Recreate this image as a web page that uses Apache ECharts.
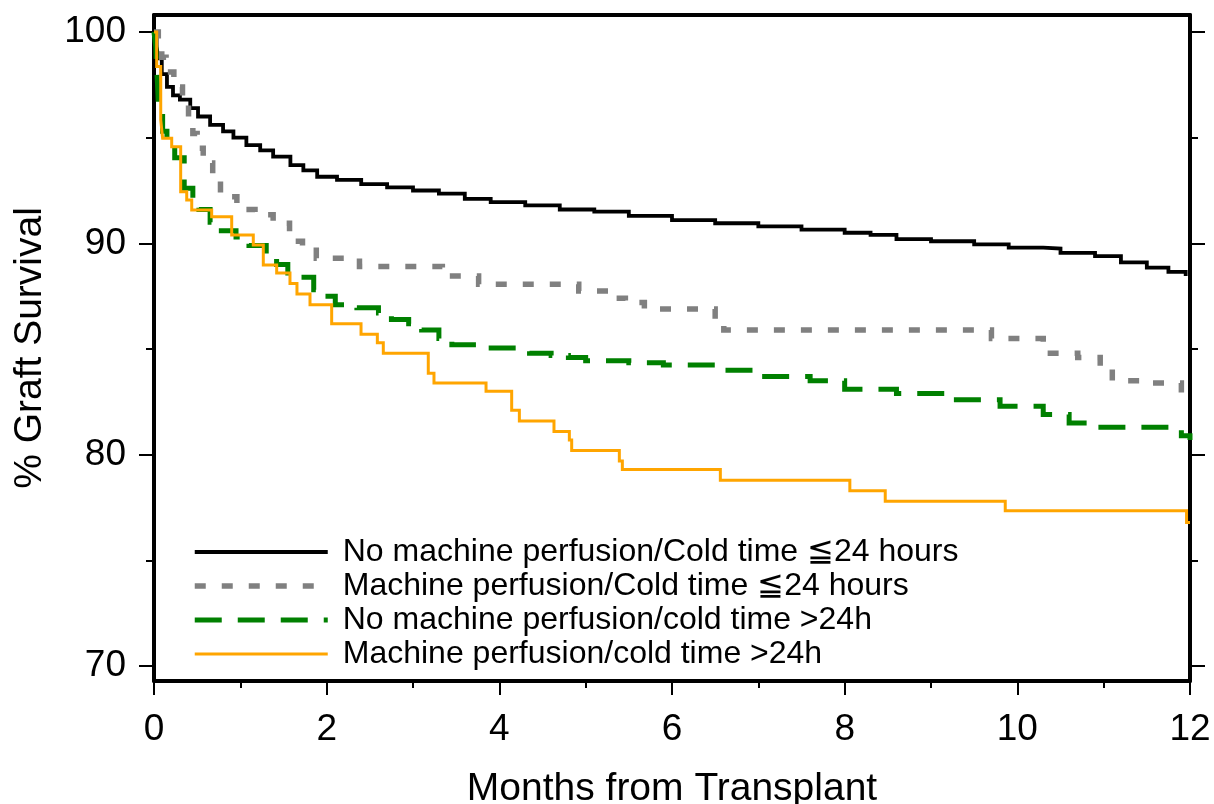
<!DOCTYPE html>
<html><head><meta charset="utf-8">
<script src="https://cdn.jsdelivr.net/npm/echarts@6/dist/echarts.min.js"></script>
<style>html,body{margin:0;padding:0;background:#fff}#c{width:1214px;height:804px}</style>
</head><body><div id="c"></div>
<script>
// ---------- data ----------
const seriesNames = [
  'No machine perfusion/Cold time \u226624 hours',
  'Machine perfusion/Cold time \u226624 hours',
  'No machine perfusion/cold time >24h',
  'Machine perfusion/cold time >24h'
];
const xAxisTitle = 'Months from Transplant';
const yAxisTitle = '% Graft Survival';
const yMajorTicks = [70, 80, 90, 100];
const yMinorTicks = [75, 85, 95];

const blackMonths = [0, 0.03, 0.05, 0.09, 0.15, 0.22, 0.30, 0.42, 0.51, 0.65, 0.80, 0.92, 1.07, 1.23, 1.38, 1.58, 1.73, 1.89, 2.12, 2.4, 2.7, 3.0, 3.3, 3.6, 3.9, 4.3, 4.7, 5.1, 5.5, 6.0, 6.5, 7.0, 7.5, 8.0, 8.3, 8.6, 9.0, 9.5, 9.9, 10.3, 10.5, 10.9, 11.2, 11.5, 11.75, 11.95];
const blackSurvival = [100, 99.3, 98.75, 98.0, 97.4, 97.0, 96.8, 96.4, 96.0, 95.6, 95.3, 95.0, 94.65, 94.4, 94.1, 93.7, 93.45, 93.15, 93.0, 92.8, 92.65, 92.5, 92.35, 92.1, 91.95, 91.8, 91.6, 91.5, 91.3, 91.1, 90.95, 90.8, 90.65, 90.5, 90.4, 90.2, 90.1, 89.95, 89.8, 89.75, 89.55, 89.4, 89.1, 88.85, 88.65, 88.45];

const greyMonths = [0, 0.05, 0.09, 0.14, 0.23, 0.33, 0.40, 0.45, 0.50, 0.57, 0.68, 0.77, 0.96, 1.17, 1.38, 1.57, 1.62, 1.72, 1.88, 2.38, 3.34, 3.76, 4.92, 5.32, 5.46, 5.68, 6.5, 6.6, 9.7, 10.3, 10.7, 10.96, 11.1, 11.5, 11.9];
const greySurvival = [100, 99.3, 98.8, 98.1, 97.4, 96.7, 96.0, 95.2, 94.5, 93.8, 93.0, 92.2, 91.6, 91.35, 90.95, 90.3, 90.1, 89.8, 89.3, 88.9, 88.45, 88.07, 87.75, 87.4, 87.2, 86.9, 86.3, 85.9, 85.5, 84.8, 84.6, 84.2, 83.5, 83.4, 82.7];

const greenMonths = [0, 0.02, 0.03, 0.04, 0.05, 0.07, 0.10, 0.15, 0.24, 0.35, 0.45, 0.52, 0.65, 0.78, 0.95, 1.1, 1.3, 1.42, 1.55, 1.65, 1.85, 1.97, 2.1, 2.35, 2.6, 2.75, 2.95, 3.1, 3.3, 3.45, 3.7, 4.2, 4.35, 4.6, 4.8, 5.0, 5.5, 5.9, 6.5, 7.0, 7.6, 8.0, 8.6, 9.2, 9.8, 10.3, 10.6, 10.9, 11.9, 12.0];
const greenSurvival = [100, 99.3, 98.3, 97.6, 96.6, 96.0, 95.3, 94.9, 94.05, 92.6, 92.0, 91.6, 91.0, 90.6, 90.3, 89.9, 89.4, 89.0, 88.6, 88.4, 87.8, 87.5, 87.1, 86.95, 86.7, 86.4, 86.2, 85.9, 85.5, 85.2, 85.05, 85.0, 84.8, 84.7, 84.6, 84.45, 84.35, 84.25, 84.0, 83.7, 83.5, 83.1, 82.9, 82.6, 82.3, 81.9, 81.5, 81.3, 80.9, 80.7];

const orangeMonths = [0, 0.031, 0.078, 0.10, 0.205, 0.309, 0.379, 0.437, 0.668, 0.90, 1.15, 1.266, 1.421, 1.575, 1.656, 1.807, 2.058, 2.398, 2.587, 2.656, 3.177, 3.243, 3.846, 4.143, 4.232, 4.633, 4.811, 4.838, 5.39, 5.425, 6.56, 8.06, 8.47, 9.86, 11.96, 12.0];
const orangeSurvival = [100, 98.36, 95.84, 94.97, 94.57, 92.44, 92.05, 91.58, 91.26, 90.4, 89.92, 88.97, 88.6, 88.1, 87.6, 87.1, 86.2, 85.7, 85.3, 84.8, 83.85, 83.4, 83.0, 82.1, 81.6, 81.1, 80.7, 80.2, 79.7, 79.3, 78.8, 78.3, 77.8, 77.35, 76.8, 76.8];

// ---------- chart ----------
const FONT = '"Liberation Sans", Arial, Helvetica, sans-serif';
const zip = (a, b) => a.map((v, i) => [v, b[i]]);
const colors = ['#000000', '#808080', '#008000', '#FFA500'];
const widths = [3.8, 5.5, 5, 3];
const dashes = ['solid', [11, 16], [27, 16], 'solid'];
const seriesData = [
  zip(blackMonths, blackSurvival),
  zip(greyMonths, greySurvival),
  zip(greenMonths, greenSurvival),
  zip(orangeMonths, orangeSurvival)
];

const yMin = 69.3, yMax = 100.8;
const gridBox = { left: 154, right: 24, top: 15, bottom: 123, containLabel: false, outerBoundsMode: 'none' };
const lineBlack = { show: true, onZero: false, lineStyle: { color: '#000', width: 4 } };

const chart = echarts.init(document.getElementById('c'), null, { renderer: 'canvas' });
chart.setOption({
  animation: false,
  backgroundColor: '#fff',
  grid: [Object.assign({}, gridBox), Object.assign({}, gridBox)],
  xAxis: [
    { type: 'value', gridIndex: 0, position: 'bottom', min: 0, max: 12, interval: 2,
      axisLine: lineBlack,
      axisTick: { show: true, inside: false, length: 14, lineStyle: { color: '#000', width: 2 } },
      minorTick: { show: true, splitNumber: 2, length: 7, lineStyle: { color: '#000', width: 2 } },
      axisLabel: { show: true, margin: 30, fontSize: 37, color: '#000', fontFamily: FONT },
      splitLine: { show: false },
      name: xAxisTitle, nameLocation: 'middle', nameGap: 89,
      nameTextStyle: { fontSize: 39, color: '#000', fontFamily: FONT } },
    { type: 'value', gridIndex: 0, position: 'top', min: 0, max: 12,
      axisLine: lineBlack, axisTick: { show: false }, axisLabel: { show: false }, splitLine: { show: false } },
    { type: 'value', gridIndex: 1, position: 'bottom', min: 0, max: 12, show: false }
  ],
  yAxis: [
    { type: 'value', gridIndex: 0, position: 'left', min: yMin, max: yMax,
      axisLine: lineBlack,
      axisTick: { show: true, inside: false, length: 15, customValues: yMajorTicks, lineStyle: { color: '#000', width: 2 } },
      axisLabel: { show: true, customValues: yMajorTicks, margin: 28, fontSize: 37, color: '#000', fontFamily: FONT },
      splitLine: { show: false },
      name: yAxisTitle, nameLocation: 'middle', nameGap: 104,
      nameTextStyle: { fontSize: 39, color: '#000', fontFamily: FONT } },
    { type: 'value', gridIndex: 0, position: 'right', min: yMin, max: yMax,
      axisLine: lineBlack,
      axisTick: { show: true, inside: false, length: 15, customValues: yMajorTicks, lineStyle: { color: '#000', width: 2 } },
      axisLabel: { show: false }, splitLine: { show: false } },
    { type: 'value', gridIndex: 1, position: 'left', min: yMin, max: yMax,
      axisLine: { show: false, onZero: false },
      axisTick: { show: true, inside: false, length: 8, customValues: yMinorTicks, lineStyle: { color: '#000', width: 2 } },
      axisLabel: { show: false }, splitLine: { show: false } },
    { type: 'value', gridIndex: 1, position: 'right', min: yMin, max: yMax,
      axisLine: { show: false, onZero: false },
      axisTick: { show: true, inside: false, length: 8, customValues: yMinorTicks, lineStyle: { color: '#000', width: 2 } },
      axisLabel: { show: false }, splitLine: { show: false } }
  ],
  legend: {
    orient: 'vertical', left: 187, top: 531,
    itemWidth: 133, itemHeight: 14, itemGap: 2,
    selectedMode: false,
    itemStyle: { opacity: 0 },
    textStyle: { fontSize: 32, color: '#000', fontFamily: FONT, padding: [0, 0, 0, 10] },
    data: seriesNames.map((n, i) => ({ name: n, lineStyle: { width: widths[i] } }))
  },
  series: seriesNames.map((n, i) => ({
    type: 'line', name: n, xAxisIndex: 0, yAxisIndex: 0,
    step: 'end', symbol: 'none', showSymbol: false,
    data: seriesData[i],
    lineStyle: { color: colors[i], width: widths[i], type: dashes[i], cap: 'butt', join: 'miter' },
    itemStyle: { color: colors[i] },
    z: 2 + i
  }))
});
</script>
</body></html>
